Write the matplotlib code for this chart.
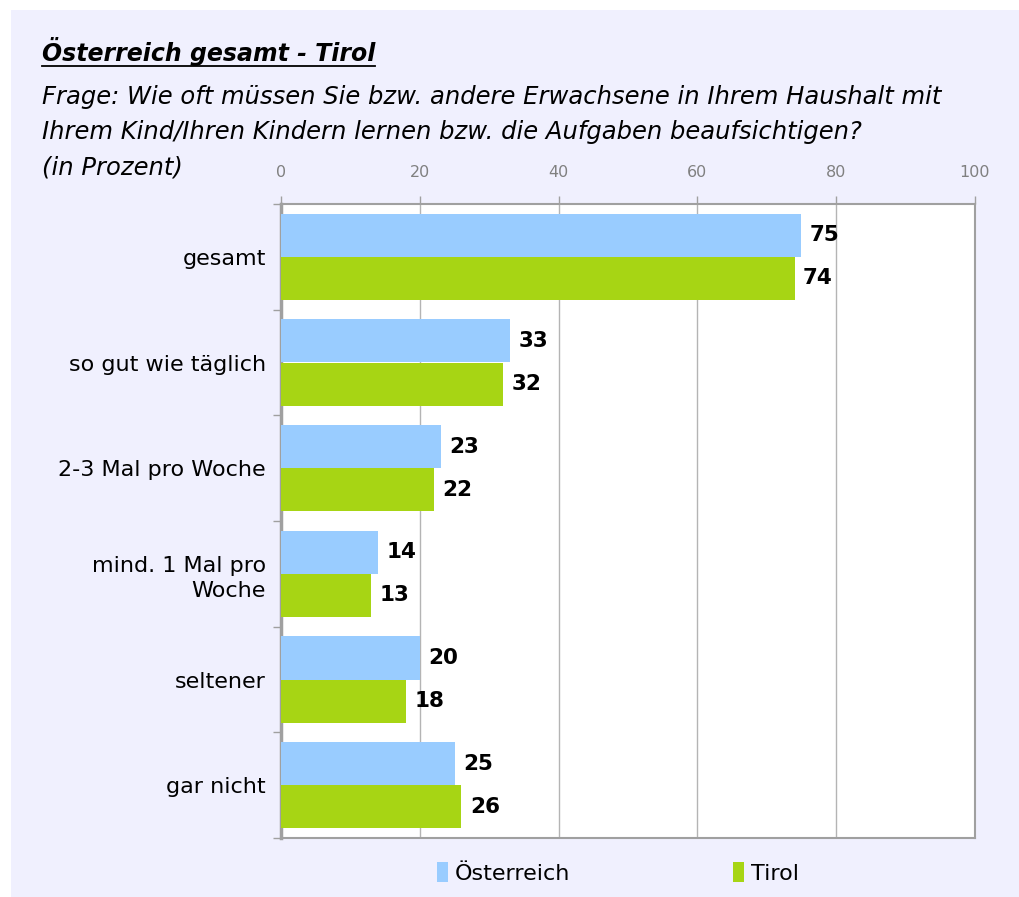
import matplotlib
matplotlib.use("Agg")
import matplotlib.pyplot as plt
from matplotlib.patches import Rectangle
from matplotlib.lines import Line2D
import numpy as np

# data
categories = ["gesamt", "so gut wie täglich", "2-3 Mal pro Woche",
              "mind. 1 Mal pro\nWoche", "seltener", "gar nicht"]
oesterreich = [75, 33, 23, 14, 20, 25]
tirol = [74, 32, 22, 13, 18, 26]
series_names = ["Österreich", "Tirol"]
x_ticks = [0, 20, 40, 60, 80, 100]

BLUE = "#99ccff"
GREEN = "#a7d514"
BG = "#f0f0fe"

plt.rcParams['font.family'] = ['DejaVu Sans']

fig = plt.figure(figsize=(10.19, 8.97), dpi=100)
fig.patch.set_facecolor("white")
# lavender panel behind everything
fig.patches.append(Rectangle((11 / 1019, 0), 1 - 11 / 1019, 1 - 10 / 897,
                             transform=fig.transFigure, facecolor=BG,
                             edgecolor="none", zorder=-10))

ax = fig.add_axes([281 / 1019, 59 / 897, 694 / 1019, 634 / 897])
ax.set_facecolor("white")

y = np.arange(len(categories))
h = 0.41
b1 = ax.barh(y - h / 2, oesterreich, height=h, color=BLUE, zorder=3)
b2 = ax.barh(y + h / 2, tirol, height=h, color=GREEN, zorder=3)

for bars, vals in ((b1, oesterreich), (b2, tirol)):
    for bar, v in zip(bars, vals):
        ax.annotate(str(v), (bar.get_width(), bar.get_y() + bar.get_height() / 2),
                    xytext=(6, 0), textcoords="offset points", va="center",
                    ha="left", fontsize=15.5, fontweight="bold", color="black",
                    zorder=4)

ax.set_xlim(0, 100)
ax.set_ylim(len(categories) - 0.5, -0.5)

# x axis on top
ax.xaxis.tick_top()
ax.set_xticks(x_ticks)
ax.tick_params(axis="x", which="major", length=6, width=1, color="#a0a0a0",
               labelcolor="#808080", labelsize=11.5, pad=11)
ax.grid(axis="x", color="#b4b4b4", linewidth=1, zorder=0)

# y axis: labels at categories, ticks between them
ax.set_yticks(y)
ax.set_yticklabels(categories, fontsize=16, linespacing=1.3)
ax.set_yticks(np.arange(-0.5, len(categories)), minor=True)
ax.tick_params(axis="y", which="major", length=0, pad=11)
ax.tick_params(axis="y", which="minor", length=6, width=1, color="#a0a0a0")
for lbl in ax.get_yticklabels():
    lbl.set_horizontalalignment("right")

for side in ("top", "right", "bottom"):
    ax.spines[side].set_color("#a0a0a0")
    ax.spines[side].set_linewidth(1.5)
ax.spines["left"].set_color("#a0a0a0")
ax.spines["left"].set_linewidth(2.5)

# titles
title = fig.text(42 / 1019, 1 - 52 / 897, "Österreich gesamt - Tirol",
                 fontsize=17, fontweight="bold", style="italic", va="center",
                 ha="left", color="black")
sub_lines = ["Frage: Wie oft müssen Sie bzw. andere Erwachsene in Ihrem Haushalt mit",
             "Ihrem Kind/Ihren Kindern lernen bzw. die Aufgaben beaufsichtigen?",
             "(in Prozent)"]
for i, line in enumerate(sub_lines):
    fig.text(42 / 1019, 1 - (97 + 35.5 * i) / 897, line, fontsize=17.5,
             style="italic", va="center", ha="left", color="black")

# underline the title
fig.canvas.draw()
bb = title.get_window_extent().transformed(fig.transFigure.inverted())
fig.lines.append(Line2D([bb.x0, bb.x1], [1 - 66 / 897] * 2,
                        transform=fig.transFigure, color="black", linewidth=1.3))

fig.legend([b1, b2], series_names, loc="center", ncol=2,
           bbox_to_anchor=(618 / 1019, 24 / 897), frameon=False,
           fontsize=16, handlelength=0.5, handleheight=1.0,
           handletextpad=0.3, columnspacing=7.35)

fig.savefig("out.png", dpi=100, facecolor=fig.get_facecolor())
